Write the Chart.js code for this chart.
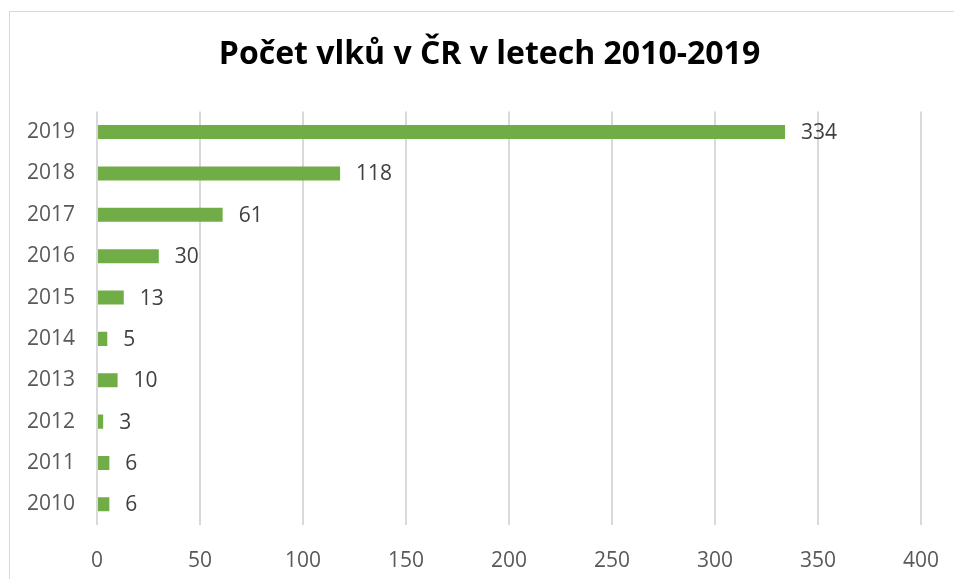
<!DOCTYPE html>
<html>
<head>
<meta charset="utf-8">
<script src="https://cdn.jsdelivr.net/npm/chart.js@4/dist/chart.umd.min.js"></script>
<style>
html,body{margin:0;padding:0;background:#fff;overflow:hidden;}
#wrap{position:absolute;left:0;top:0;width:954px;height:579px;}
#frame{position:absolute;left:9px;top:11px;width:960px;height:600px;border:1px solid #d9d9d9;box-sizing:border-box;}
canvas{position:absolute;left:0;top:0;}
</style>
</head>
<body>
<div id="wrap">
<div id="frame"></div>
<canvas id="c" width="954" height="579"></canvas>
</div>
<script>
const chartTitle = "Počet vlků v ČR v letech 2010-2019";
const years = ["2019","2018","2017","2016","2015","2014","2013","2012","2011","2010"];
const wolves = [334,118,61,30,13,5,10,3,6,6];
const xTicks = [0,50,100,150,200,250,300,350,400];

const FONT = "'Open Sans', 'Liberation Sans', sans-serif";

const labelPlugin = {
  id: 'barLabels',
  afterDatasetsDraw(chart) {
    const ctx = chart.ctx;
    const meta = chart.getDatasetMeta(0);
    ctx.save();
    ctx.font = "21px " + FONT;
    ctx.fillStyle = "#404040";
    ctx.textAlign = "left";
    ctx.textBaseline = "middle";
    meta.data.forEach((bar, i) => {
      ctx.fillText(String(wolves[i]), bar.x + 16, bar.y + 1);
    });
    ctx.restore();
  }
};

new Chart(document.getElementById('c'), {
  type: 'bar',
  data: {
    labels: years,
    datasets: [{
      data: wolves,
      backgroundColor: '#70AD47',
      borderWidth: 0,
      barPercentage: 0.68,
      categoryPercentage: 0.5
    }]
  },
  options: {
    indexAxis: 'y',
    responsive: false,
    animation: false,
    devicePixelRatio: 1,
    layout: { padding: { left: 25, right: 0, top: 0, bottom: 0 } },
    plugins: {
      legend: { display: false },
      tooltip: { enabled: false },
      title: {
        display: true,
        text: chartTitle,
        color: '#000000',
        font: { family: FONT, size: 32, weight: 'bold', lineHeight: 1.2 },
        padding: { top: 36, bottom: 37 }
      }
    },
    scales: {
      x: {
        min: 0, max: 400,
        afterBuildTicks: s => { s.ticks = xTicks.map(v => ({ value: v })); },
        grid: { color: '#d9d9d9', lineWidth: 2, drawTicks: false, drawOnChartArea: true },
        border: { display: false },
        ticks: { color: '#595959', font: { family: FONT, size: 21 }, padding: 23 },
        afterFit: s => { s.height = 54; s.paddingRight = 33; s.paddingLeft = 0; }
      },
      y: {
        grid: { display: false, drawTicks: false },
        border: { display: false },
        ticks: { color: '#595959', font: { family: FONT, size: 21 }, padding: 22 },
        afterFit: s => { s.width = 72; }
      }
    }
  },
  plugins: [labelPlugin]
});
</script>
</body>
</html>
